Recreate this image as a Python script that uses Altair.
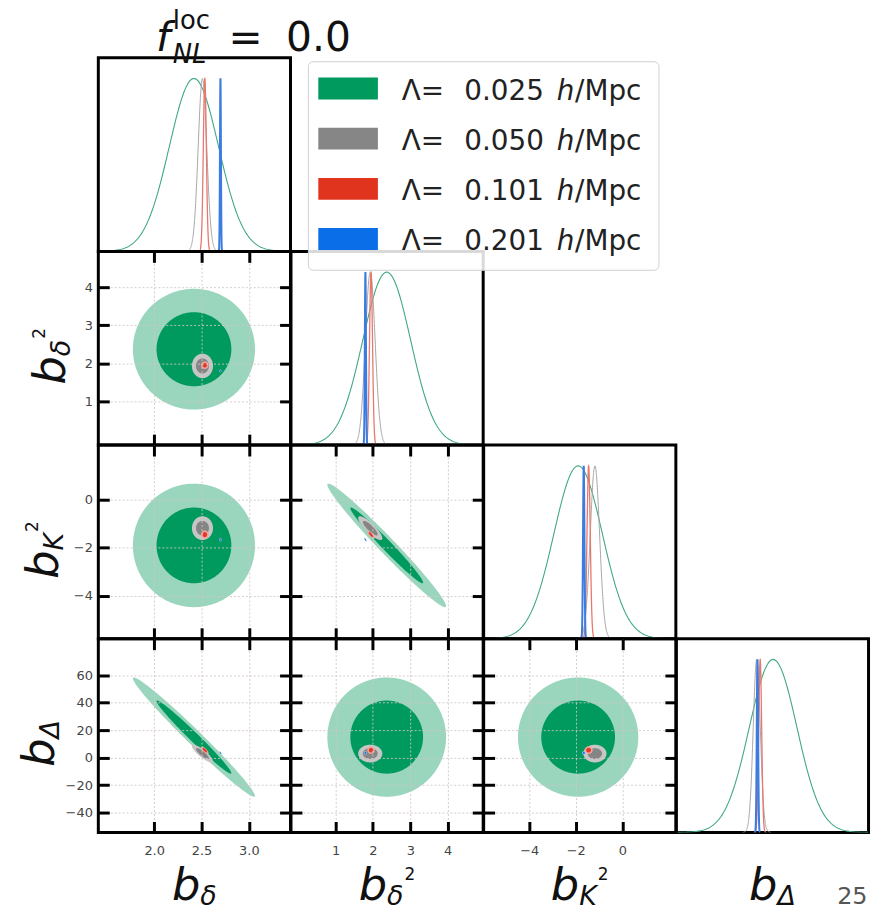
import altair as alt
import pandas as pd

# ---------------- data ----------------
lambdas = ["0.025", "0.050", "0.101", "0.201"]
params = ["b_delta", "b_delta2", "b_K2", "b_Delta"]

# posterior means of (b_delta, b_delta2, b_K2, b_Delta) for each cutoff
mean_025 = [2.42, 2.37, -1.90, 15.0]
mean_050 = [2.51, 1.93, -1.18, 3.0]
mean_101 = [2.535, 1.95, -1.45, 5.5]
mean_201 = [2.70, 1.80, -1.66, 3.5]
# 1-sigma widths
sigma_025 = [0.26, 0.64, 1.04, 17.5]
sigma_050 = [0.045, 0.13, 0.20, 2.6]
sigma_101 = [0.016, 0.04, 0.07, 1.1]
sigma_201 = [0.005, 0.015, 0.03, 0.5]
# correlation coefficients (other pairs ~ 0)
rho_bdelta_bDelta = [-0.985, -0.85, -0.8, -0.8]
rho_bdelta2_bK2 = [-0.982, -0.85, -0.8, -0.8]

means = [mean_025, mean_050, mean_101, mean_201]
sigmas = [sigma_025, sigma_050, sigma_101, sigma_201]

# styles
fill_dark = ["#00995e", "#858585", "#e33a26", "#1a6fe0"]
fill_light = ["#9ad5be", "#c6c6c6", "#f0a8a0", "#9cc4f2"]
line_colors = ["#40a882", "#a6a6a6", "#e8776c", "#3c7be0"]
line_widths = [1.1, 1.0, 1.3, 2.0]
legend_colors = ["#00995e", "#868686", "#e0341f", "#0a6ee8"]

x_domains = [[1.41, 3.44], [-0.19, 4.95], [-5.95, 2.29], [-56, 85]]
y_domains = {1: [-0.15, 4.94], 2: [-5.8, 2.29], 3: [-54.4, 86.6]}
x_ticks = [[2.0, 2.5, 3.0], [1, 2, 3, 4], [-4, -2, 0], [-30, 0, 30, 60]]
y_ticks = {1: [1, 2, 3, 4], 2: [-4, -2, 0], 3: [-40, -20, 0, 20, 40, 60]}
x_fmt = [".1f", "d", "d", "d"]
diag_grid = [0.2, 0.4, 0.6, 0.8, 1.0]
diag_domain = [0, 1.12]

title_subs = ["δ", "δ", "K", "Δ"]
title_sups = ["", "2", "2", ""]
sub_widths = [16.5, 16.5, 17.7, 18.5]
# horizontal baseline position of the rotated y titles (relative to panel left)
y_title_x = {1: -34, 2: -41, 3: -45}

FONT = "DejaVu Sans"
W, H = 193.5, 195
TICK = 11
GRID = "#d2c6c6"
K68, K95 = 1.52, 2.48
SUB_U = 28.5

dummy = pd.DataFrame({"d": [0]})


def rho(l, i, j):
    pair = tuple(sorted((i, j)))
    if pair == (0, 3):
        return rho_bdelta_bDelta[l]
    if pair == (1, 2):
        return rho_bdelta2_bK2[l]
    return 0.0


def make_axis(orient, values, fmt, labels, grid, ticks=True, pad=10, zindex=0):
    kw = dict(orient=orient, title=None, domain=False, grid=grid, labels=labels, ticks=ticks, zindex=zindex)
    if values is not None:
        kw["values"] = values
    if fmt:
        kw["format"] = fmt
    if ticks:
        kw.update(tickSize=TICK, tickWidth=3, tickColor="black", offset=-TICK)
    if grid:
        kw.update(gridColor=GRID, gridDash=[2, 2], gridWidth=0.9)
    if labels:
        kw.update(labelFont=FONT, labelFontSize=13, labelColor="#444", labelPadding=pad)
    return alt.Axis(**kw)


def txt(s, x, y, size, italic=False, color="#111", align="left", angle=None):
    kw = dict(text=s, font=FONT, fontSize=size, color=color, align=align, baseline="alphabetic")
    if italic:
        kw["fontStyle"] = "italic"
    if angle is not None:
        kw["angle"] = angle
    return alt.Chart(dummy).mark_text(**kw).encode(x=alt.value(x), y=alt.value(y))


def title_pieces(p):
    pcs = [("b", 0, 0, 45, True), (title_subs[p], SUB_U, 5, 27, True)]
    width = SUB_U + sub_widths[p]
    if title_sups[p]:
        pcs.append((title_sups[p], SUB_U + sub_widths[p] + 1, -20, 17, False))
        width += 12
    return pcs, width


def x_title(p):
    pcs, w = title_pieces(p)
    return [txt(s, W / 2 - w / 2 + u, H + 68 + v, sz, it) for s, u, v, sz, it in pcs]


def y_title(p):
    pcs, w = title_pieces(p)
    bx = y_title_x[p]
    return [txt(s, bx + v, H / 2 + 8 + w / 2 - u, sz, it, angle=270) for s, u, v, sz, it in pcs]


def ellipse(df, key, color, xs, ys):
    return (
        alt.Chart(df)
        .transform_filter(f"datum.key == '{key}'")
        .transform_calculate(i="sequence(0, 181, 1)")
        .transform_flatten(["i"])
        .transform_calculate(
            th="datum.i * PI / 180",
            ex="datum.mx + datum.k * datum.sx * cos(datum.th)",
            eu="datum.my + datum.k * datum.sy * (datum.rho * cos(datum.th) + sqrt(1 - datum.rho * datum.rho) * sin(datum.th))",
            el="datum.my + datum.k * datum.sy * (datum.rho * cos(datum.th) - sqrt(1 - datum.rho * datum.rho) * sin(datum.th))",
        )
        .mark_area(color=color, orient="vertical", clip=True, opacity=1)
        .encode(
            x=alt.X("ex:Q", scale=xs, axis=None),
            y=alt.Y("eu:Q", scale=ys, axis=None),
            y2="el:Q",
        )
    )


def panel_2d(r, c, extra=()):
    xs = alt.Scale(domain=x_domains[c], nice=False, zero=False)
    ys = alt.Scale(domain=y_domains[r], nice=False, zero=False)
    ax_df = pd.DataFrame({"x": x_domains[c], "y": y_domains[r]})
    layer_a = alt.Chart(ax_df).mark_point(opacity=0).encode(
        x=alt.X("x:Q", scale=xs, axis=make_axis("bottom", x_ticks[c], x_fmt[c], r == 3, True, pad=12, zindex=1)),
        y=alt.Y("y:Q", scale=ys, axis=make_axis("left", y_ticks[r], "d", c == 0, True, pad=6, zindex=1)),
    )
    layer_b = alt.Chart(ax_df).mark_point(opacity=0).encode(
        x=alt.X("x:Q", scale=xs, axis=make_axis("top", x_ticks[c], None, False, False, zindex=1)),
        y=alt.Y("y:Q", scale=ys, axis=make_axis("right", y_ticks[r], None, False, False, zindex=1)),
    )
    rows = []
    for l in range(4):
        for lev, k in (("95", K95), ("68", K68)):
            rows.append(dict(key=f"{l}_{lev}", mx=means[l][c], my=means[l][r],
                             sx=sigmas[l][c], sy=sigmas[l][r], rho=rho(l, c, r), k=k))
    edf = pd.DataFrame(rows)
    layers = [layer_a]
    for l in range(4):
        layers.append(ellipse(edf, f"{l}_95", fill_light[l], xs, ys))
        layers.append(ellipse(edf, f"{l}_68", fill_dark[l], xs, ys))
    layers.append(layer_b)
    layers.extend(extra)
    return alt.layer(*layers).properties(width=W, height=H).resolve_axis(x="independent", y="independent")


def panel_diag(p, extra=()):
    xs = alt.Scale(domain=x_domains[p], nice=False, zero=False)
    ys = alt.Scale(domain=diag_domain, nice=False, zero=False)
    ax_df = pd.DataFrame({"x": x_domains[p], "y": diag_domain})
    layer_a = alt.Chart(ax_df).mark_point(opacity=0).encode(
        x=alt.X("x:Q", scale=xs, axis=make_axis("bottom", x_ticks[p], x_fmt[p], p == 3, True, pad=12)),
        y=alt.Y("y:Q", scale=ys, axis=make_axis("left", diag_grid, None, False, True, ticks=False)),
    )
    cdf = pd.DataFrame({
        "lam": [0, 1, 2, 3],
        "mean": [means[l][p] for l in range(4)],
        "sigma": [sigmas[l][p] for l in range(4)],
    })
    layers = [layer_a]
    for l in range(4):
        layers.append(
            alt.Chart(cdf)
            .transform_filter(f"datum.lam == {l}")
            .transform_calculate(s="sequence(-400, 401, 4)")
            .transform_flatten(["s"])
            .transform_calculate(
                z="datum.s / 100",
                cx="datum.mean + datum.z * datum.sigma",
                cy="exp(-0.5 * datum.z * datum.z)",
            )
            .mark_line(color=line_colors[l], strokeWidth=line_widths[l], clip=True)
            .encode(x=alt.X("cx:Q", scale=xs, axis=None), y=alt.Y("cy:Q", scale=ys, axis=None))
        )
    layers.extend(extra)
    return alt.layer(*layers).properties(width=W, height=H)


def blank():
    return alt.Chart(dummy).mark_point(opacity=0).encode(
        x=alt.value(0), y=alt.value(0)
    ).properties(width=W, height=H, view=alt.ViewBackground(stroke="transparent"))


# ---------------- decorations ----------------
anchor = alt.Chart(dummy).mark_rect(color="white").encode(
    x=alt.value(-97), x2=alt.value(-96), y=alt.value(-53), y2=alt.value(-52))

title_layers = [
    txt("f", 58, -7, 41, True),
    txt("loc", 75, -29, 26),
    txt("NL", 75, 5, 26, True),
    txt("=", 131, -7, 41),
    txt("0.0", 189, -7, 41),
]

LEG_FONT = 28
legend_layers = [
    alt.Chart(dummy).mark_rect(cornerRadius=5, fill="white", fillOpacity=0.85,
                               stroke="#d0d0d0", strokeWidth=1).encode(
        x=alt.value(17.5), x2=alt.value(370.5), y=alt.value(-191), y2=alt.value(19))
]
for i, lam in enumerate(lambdas):
    yc = -164 + i * 50.5
    legend_layers.append(
        alt.Chart(dummy).mark_rect(color=legend_colors[i]).encode(
            x=alt.value(27.5), x2=alt.value(87.5), y=alt.value(yc - 11), y2=alt.value(yc + 11)))
    legend_layers.append(txt("Λ=", 111.5, yc + 11.5, LEG_FONT, color="#222"))
    legend_layers.append(txt(lam, 174.5, yc + 11.5, LEG_FONT, color="#222"))
    legend_layers.append(txt("h", 267.5, yc + 11.5, LEG_FONT, True, color="#222"))
    legend_layers.append(txt("/Mpc", 286, yc + 11.5, LEG_FONT, color="#222"))

page_num = [txt("25", 192.5, 267, 24, color="#555", align="right")]

cells = [
    panel_diag(0, [anchor] + title_layers), blank(), blank(), blank(),
    panel_2d(1, 0, y_title(1)), panel_diag(1, legend_layers), blank(), blank(),
    panel_2d(2, 0, y_title(2)), panel_2d(2, 1), panel_diag(2), blank(),
    panel_2d(3, 0, y_title(3) + x_title(0)),
    panel_2d(3, 1, x_title(1)),
    panel_2d(3, 2, x_title(2)),
    panel_diag(3, x_title(3) + page_num),
]

chart = (
    alt.concat(*cells, columns=4, spacing=0, bounds="flush")
    .properties(padding=0, background="white")
    .configure_view(stroke="black", strokeWidth=3)
)

chart.save("out.html", embed_options={"renderer": "svg", "actions": False})
